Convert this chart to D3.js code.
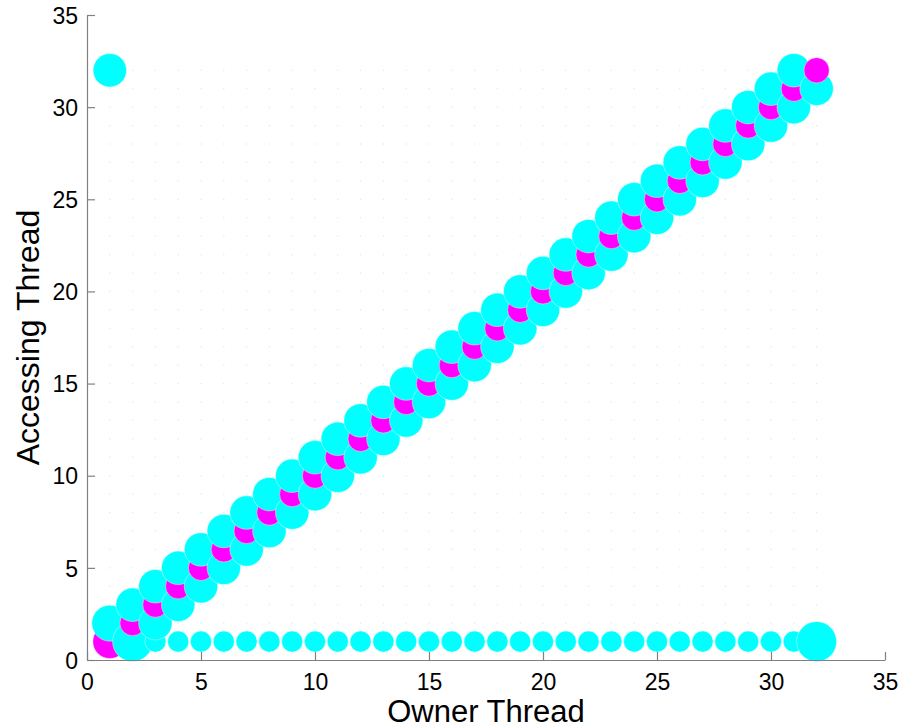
<!DOCTYPE html>
<html>
<head>
<meta charset="utf-8">
<script src="https://cdn.jsdelivr.net/npm/d3@7"></script>
<style>
  html, body { margin: 0; padding: 0; background: #fff; }
  svg { display: block; }
  text { font-family: "Liberation Sans", Arial, Helvetica, sans-serif; fill: #000; }
</style>
</head>
<body>
<svg id="chart" width="901" height="728"></svg>
<script>
// Thread ids 1..32
const threads = d3.range(1, 33);
const xTicks = [0, 5, 10, 15, 20, 25, 30, 35];
const yTicks = [0, 5, 10, 15, 20, 25, 30, 35];

// Access volume (relative units) per cell, owner thread -> accessing thread
// local: owner i read by thread i
const localAccess = [72, 40, 40, 40, 40, 40, 40, 40, 40, 40, 40, 40, 40, 40, 40, 40,
                     40, 40, 40, 40, 40, 40, 40, 40, 40, 40, 40, 40, 40, 40, 40, 40];
// next neighbour: owner i read by thread i+1 (owner 32 -> thread 1)
const nextAccess  = [81, 70, 70, 70, 70, 70, 70, 70, 70, 70, 70, 70, 70, 70, 70, 70,
                     70, 70, 70, 70, 70, 70, 70, 70, 70, 70, 70, 70, 70, 70, 70, 100];
// previous neighbour: owner i read by thread i-1 (owner 1 -> thread 32)
const prevAccess  = [70, 100, 70, 70, 70, 70, 70, 70, 70, 70, 70, 70, 70, 70, 70, 70,
                     70, 70, 70, 70, 70, 70, 70, 70, 70, 70, 70, 70, 70, 70, 70, 70];
// thread 1 reading owners 3..31
const masterAccess = [28, 28, 28, 28, 28, 28, 28, 28, 28, 28, 28, 28, 28, 28, 28, 28,
                      28, 28, 28, 28, 28, 28, 28, 28, 28, 28, 28, 28, 28];

const localColor = "#ff00ff";
const remoteColor = "#00ffff";

// Build the point table
const points = [];
threads.forEach((t, i) => points.push({ owner: t, accessor: t, v: localAccess[i], local: true }));
nextAccess.forEach((v, i) => {
  const owner = i + 1;
  const accessor = owner === 32 ? 1 : owner + 1;
  points.push({ owner, accessor, v, local: false });
});
prevAccess.forEach((v, i) => {
  const owner = i + 1;
  if (owner === 2) return; // (2,1) is covered by the thread-1 wrap entry below
  const accessor = owner === 1 ? 32 : owner - 1;
  points.push({ owner, accessor, v, local: false });
});
points.push({ owner: 2, accessor: 1, v: prevAccess[1], local: false });
masterAccess.forEach((v, i) => points.push({ owner: i + 3, accessor: 1, v, local: false }));
// draw in owner-major, accessor-minor order
points.sort((a, b) => d3.ascending(a.owner, b.owner) || d3.ascending(a.accessor, b.accessor));

const svg = d3.select("#chart");
const margin = { left: 87, right: 16, top: 15, bottom: 68 };
const W = 901, H = 728;

const x = d3.scaleLinear().domain([0, 35]).range([margin.left, W - margin.right]);
const y = d3.scaleLinear().domain([0, 35]).range([H - margin.bottom, margin.top]);
const r = d3.scaleSqrt().domain([0, 100]).range([0, 20]);

// faint markers at every cell
const cells = [];
threads.forEach(o => threads.forEach(a => cells.push({ o, a })));
svg.append("g").selectAll("rect").data(cells).join("rect")
  .attr("x", d => x(d.o) - 0.6)
  .attr("y", d => y(d.a) - 0.6)
  .attr("width", 1.2).attr("height", 1.2)
  .attr("fill", "#a8ffff");

// access circles
svg.append("g").selectAll("circle").data(points).join("circle")
  .attr("cx", d => x(d.owner))
  .attr("cy", d => y(d.accessor))
  .attr("r", d => r(d.v))
  .attr("fill", d => d.local ? localColor : remoteColor)
  .attr("stroke", "#ffffff")
  .attr("stroke-width", 0.6)
  .attr("stroke-opacity", 0.75);

// axes: left and bottom only, ticks pointing inward
const axisColor = "#808080";
const xAxis = svg.append("g").attr("transform", `translate(0,${y(0)})`)
  .call(d3.axisBottom(x).tickValues(xTicks).tickSizeInner(-8).tickSizeOuter(0).tickFormat(d3.format("d")));
const yAxis = svg.append("g").attr("transform", `translate(${x(0)},0)`)
  .call(d3.axisLeft(y).tickValues(yTicks).tickSizeInner(-8).tickSizeOuter(0).tickFormat(d3.format("d")));

[xAxis, yAxis].forEach(g => {
  g.select(".domain").attr("stroke", axisColor).attr("stroke-width", 1.2);
  g.selectAll(".tick line").attr("stroke", axisColor).attr("stroke-width", 1.2);
  g.selectAll(".tick text").attr("font-size", 23).attr("fill", "#000")
    .style("font-family", '"Liberation Sans", Arial, sans-serif');
});
xAxis.selectAll(".tick text").attr("y", 0).attr("dy", 0).attr("transform", "translate(0,30)");
yAxis.selectAll(".tick text").attr("x", -9).attr("dy", "0.36em");

// axis titles
svg.append("text")
  .attr("x", (x(0) + x(35)) / 2)
  .attr("y", 722)
  .attr("text-anchor", "middle")
  .attr("font-size", 31)
  .text("Owner Thread");

svg.append("text")
  .attr("transform", `translate(39,${(y(0) + y(35)) / 2}) rotate(-90)`)
  .attr("text-anchor", "middle")
  .attr("font-size", 32)
  .text("Accessing Thread");
</script>
</body>
</html>
